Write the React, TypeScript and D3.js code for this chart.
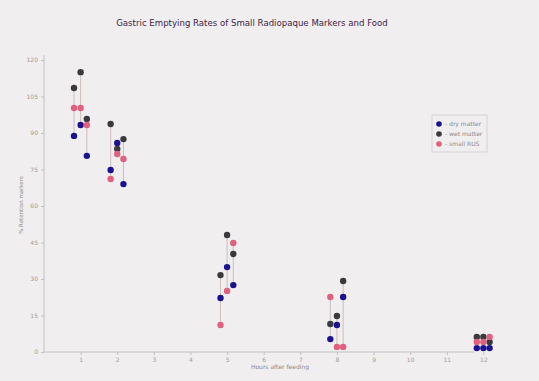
import React, { useRef, useEffect } from 'react';
import * as d3 from 'd3';

const hours = [1, 2, 5, 8, 12];
const xTicks = [1, 2, 3, 4, 5, 6, 7, 8, 9, 10, 11, 12];
const yTicks = [0, 15, 30, 45, 60, 75, 90, 105, 120];

// three sub-columns per hour; values per hour, per sub-column
const dryMatter = [
  [88.8, 93.3, 80.6],
  [74.8, 85.9, 69],
  [22.2, 34.9, 27.5],
  [5.3, 11.1, 22.6],
  [1.6, 1.6, 1.6],
];
const wetMatter = [
  [108.5, 115, 95.8],
  [93.7, 83.4, 87.5],
  [31.6, 48.1, 40.3],
  [11.5, 14.8, 29.2],
  [6.2, 6.2, 4.1],
];
const smallRUS = [
  [100.3, 100.3, 93.3],
  [71.1, 81.4, 79.3],
  [11.1, 25.1, 44.8],
  [22.6, 2.1, 2.1],
  [4.1, 4.1, 6.2],
];
const seriesNames = ['- dry matter', '- wet matter', '- small RUS'];
const seriesColors = ['#1c1290', '#3a3a3e', '#e0607e'];

const SUB_OFFSETS = [-0.18, 0, 0.17];

export default function App() {
  const ref = useRef<SVGSVGElement | null>(null);

  useEffect(() => {
    const svg = d3.select(ref.current);
    svg.selectAll('*').remove();
    const W = 539, H = 381;

    svg.append('rect').attr('width', W).attr('height', H).attr('fill', '#f0eeef');

    const x = d3.scaleLinear().domain([0, 13.3]).range([44, 531]);
    const y = d3.scaleLinear().domain([0, 120]).range([352, 60]);

    const font = '"DejaVu Sans", sans-serif';

    // Title
    svg.append('text')
      .attr('x', 252).attr('y', 26)
      .attr('text-anchor', 'middle')
      .attr('font-family', font)
      .attr('font-size', 8.6)
      .attr('fill', '#3e2446')
      .text('Gastric Emptying Rates of Small Radiopaque Markers and Food');

    // Axes
    const axisColor = '#c4c0c2';
    const xAxis = svg.append('g')
      .attr('transform', `translate(0,${y(0)})`)
      .call(d3.axisBottom(x).tickValues(xTicks).tickSize(3).tickFormat(d => String(d)));
    xAxis.select('.domain').attr('stroke', axisColor).attr('d', `M${x(0)},0H${x(11.75)}`);
    xAxis.selectAll('line').attr('stroke', axisColor);
    xAxis.selectAll('text').attr('fill', '#a09ca0').attr('font-size', 6).attr('font-family', font);

    const yAxis = svg.append('g')
      .attr('transform', `translate(${x(0)},0)`)
      .call(d3.axisLeft(y).tickValues(yTicks).tickSize(3).tickFormat(d => String(d)));
    yAxis.select('.domain').attr('stroke', axisColor).attr('d', `M0,${y(122)}V${y(0)}`);
    yAxis.selectAll('line').attr('stroke', axisColor);
    yAxis.selectAll('text').attr('fill', '#a09ca0').attr('font-size', 6).attr('font-family', font);

    svg.append('text')
      .attr('x', 280).attr('y', 369)
      .attr('text-anchor', 'middle')
      .attr('font-family', font)
      .attr('font-size', 6)
      .attr('fill', '#8c888c')
      .text('Hours after feeding');

    svg.append('text')
      .attr('transform', `translate(23,205) rotate(-90)`)
      .attr('text-anchor', 'middle')
      .attr('font-family', font)
      .attr('font-size', 5.5)
      .attr('fill', '#8c888c')
      .text('% Retention markers');

    const all = [dryMatter, wetMatter, smallRUS];

    // vertical connector lines per sub-column
    hours.forEach((h, i) => {
      SUB_OFFSETS.forEach((off, j) => {
        const vals = all.map(s => s[i][j]);
        svg.append('line')
          .attr('x1', x(h + off)).attr('x2', x(h + off))
          .attr('y1', y(d3.max(vals)!)).attr('y2', y(d3.min(vals)!))
          .attr('stroke', '#c8bab6')
          .attr('stroke-width', 0.9);
      });
    });

    all.forEach((s, k) => {
      hours.forEach((h, i) => {
        SUB_OFFSETS.forEach((off, j) => {
          svg.append('circle')
            .attr('cx', x(h + off))
            .attr('cy', y(s[i][j]))
            .attr('r', 3.2)
            .attr('fill', seriesColors[k]);
        });
      });
    });

    // Legend
    const lg = svg.append('g').attr('transform', 'translate(432,115)');
    lg.append('rect').attr('width', 55).attr('height', 37)
      .attr('fill', 'none').attr('stroke', '#cfcacc').attr('stroke-width', 0.8);
    seriesNames.forEach((name, k) => {
      lg.append('circle').attr('cx', 7).attr('cy', 9 + k * 10).attr('r', 2.8).attr('fill', seriesColors[k]);
      lg.append('text').attr('x', 13).attr('y', 11 + k * 10)
        .attr('font-family', font).attr('font-size', 6)
        .attr('fill', '#8c888c').text(name);
    });
  }, []);

  return (
    <svg ref={ref} width={539} height={381}
      style={{ position: 'absolute', left: 0, top: 0, display: 'block' }} />
  );
}
